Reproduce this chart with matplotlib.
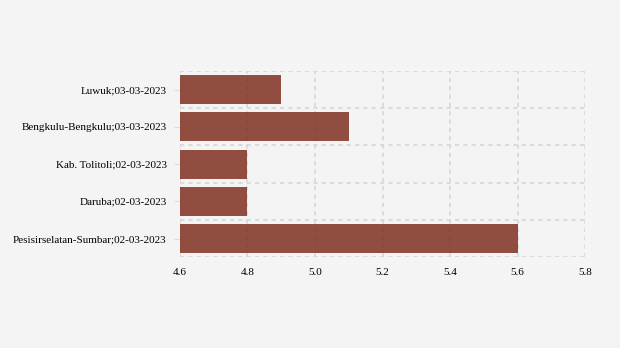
import matplotlib.pyplot as plt
import numpy as np

plt.rcParams['font.family'] = ['Liberation Serif', 'DejaVu Serif']

categories = ['Luwuk;03-03-2023', 'Bengkulu-Bengkulu;03-03-2023', 'Kab. Tolitoli;02-03-2023',
              'Daruba;02-03-2023', 'Pesisirselatan-Sumbar;02-03-2023']
values = [4.9, 5.1, 4.8, 4.8, 5.6]
xticks = [4.6, 4.8, 5.0, 5.2, 5.4, 5.6, 5.8]

fig = plt.figure(figsize=(6.2, 3.48), dpi=100)
fig.patch.set_facecolor('#f4f4f4')
ax = fig.add_axes([0.290, 0.261, 0.654, 0.535])
ax.set_facecolor('#f4f4f4')

y = np.arange(len(categories))
ax.barh(y, [v - 4.6 for v in values], left=4.6, height=0.78, color='#80301f', alpha=0.85, zorder=3)

ax.set_xlim(4.6, 5.8)
ax.set_ylim(len(categories) - 0.5, -0.5)
ax.set_xticks(xticks)
ax.set_xticklabels([f'{t:.1f}' for t in xticks], fontsize=8)
ax.set_yticks(y)
ax.set_yticklabels(categories, fontsize=8)
ax.set_yticks(np.arange(-0.5, len(categories)), minor=True)
ax.tick_params(axis='y', which='major', length=4, color='#dddddd', pad=5.5)
ax.tick_params(axis='y', which='minor', length=0)
ax.tick_params(axis='x', length=0, pad=8)

ax.grid(axis='x', which='major', color='#d6d6d6', linestyle=(0, (2.5, 2.5)), linewidth=1.2, zorder=1)
ax.grid(axis='y', which='minor', color='#d6d6d6', linestyle=(0, (2.5, 2.5)), linewidth=1.2, zorder=1)
ax.set_axisbelow(True)
for s in ax.spines.values():
    s.set_visible(False)

fig.savefig('out.png', facecolor=fig.get_facecolor())
